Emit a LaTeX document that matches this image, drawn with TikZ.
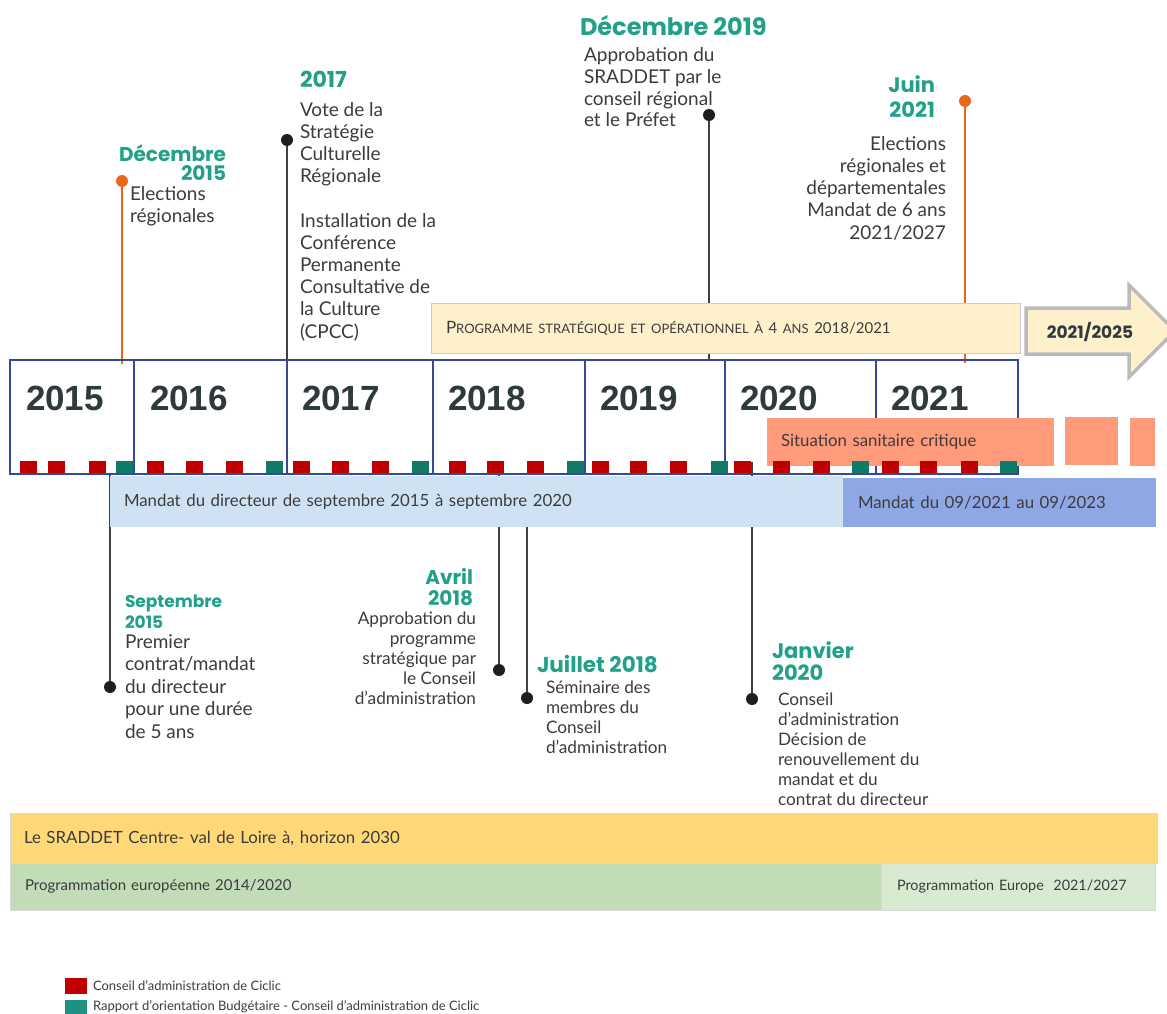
\documentclass[tikz,border=0pt]{standalone}
\usepackage{fontspec}
\setmainfont{Lato}
\newfontfamily\headfont{Poppins}
\newfontfamily\yearfont{Liberation Sans}
\usepackage{xcolor}
\usepackage{tikz}
\usetikzlibrary{positioning, shapes, calc}
\definecolor{tealhead}{HTML}{21A08A}
\definecolor{bodytxt}{HTML}{3C3C3C}
\definecolor{yeartxt}{HTML}{2F3A3E}
\definecolor{boxblue}{HTML}{34499A}
\definecolor{sqred}{HTML}{C00000}
\definecolor{sqteal}{HTML}{127A68}
\definecolor{legteal}{HTML}{1E9282}
\definecolor{pinorange}{HTML}{E9661C}
\definecolor{pinblack}{HTML}{1E1E1E}
\definecolor{salmon}{HTML}{FF9B7B}
\definecolor{progfill}{HTML}{FFF0CC}
\definecolor{mandatA}{HTML}{CFE2F3}
\definecolor{mandatB}{HTML}{8EA7E5}
\definecolor{sraddet}{HTML}{FFD978}
\definecolor{europeA}{HTML}{C2DCB8}
\definecolor{europeB}{HTML}{D9EAD3}

\begin{document}
\begin{tikzpicture}[x=1pt,y=-1pt,
  every node/.append style={inner sep=0pt, outer sep=0pt},
  head/.style 2 args={font=\headfont\bfseries\fontsize{#1}{#2}\selectfont, text=tealhead},
  body/.style 2 args={font=\fontsize{#1}{#2}\selectfont, text=bodytxt},
  yearlbl/.style={font=\yearfont\bfseries\fontsize{35}{35}\selectfont, text=yeartxt, anchor=base west},
  blackdot/.style={circle, fill=pinblack, minimum size=12},
  orangedot/.style={circle, fill=pinorange, minimum size=12},
  pinline/.style={draw=pinblack!85, line width=1.3},
  orangeline/.style={draw=pinorange, line width=1.3},
  bar/.style={anchor=north west, align=left, inner xsep=14, text=bodytxt, font=\fontsize{16.8}{19}\selectfont}]
\fill[white] (0,0) rectangle (1167,1014);
\useasboundingbox (0,0) rectangle (1167,1014);
% pins above the years
\node[orangedot] (p15) at (122,181) {};
\coordinate (q15) at (122,364);
\draw[orangeline] (p15) -- (q15);
\node[blackdot] (p17) at (287,140) {};
\coordinate (q17) at (287,385);
\draw[pinline] (p17) -- (q17);
\node[blackdot] (p19) at (709,115) {};
\coordinate (q19) at (709,360);
\draw[pinline] (p19) -- (q19);
\node[orangedot] (p21) at (965,101) {};
\coordinate (q21) at (965,363);
\draw[orangeline] (p21) -- (q21);
% pins below the years
\coordinate (s15) at (110,474);
\node[blackdot] (d15) at (110,687) {};
\draw[pinline] (s15) -- (d15);
\coordinate (s18a) at (499,462);
\node[blackdot] (d18a) at (499,670) {};
\draw[pinline] (s18a) -- (d18a);
\coordinate (s18j) at (527,527);
\node[blackdot] (d18j) at (527,698) {};
\draw[pinline] (s18j) -- (d18j);
\coordinate (s20) at (752,462);
\node[blackdot] (d20) at (752,699) {};
\draw[pinline] (s20) -- (d20);
% texts of the top pins (anchored on the last line)
\node[head={20}{19}, align=right, anchor=base east] (h15) at (226,180) {Décembre\\2015};
\node[body={19}{22}, align=left, anchor=base west] (t15) at (130,222) {Elections\\régionales};
\node[head={22}{22}, anchor=base west] (h17) at (300,88) {2017};
\node[body={19}{22.2}, align=left, anchor=base west] (t17) at (300,338) {Vote de la\\Stratégie\\Culturelle\\Régionale\\[22.2pt]Installation de la\\Conférence\\Permanente\\Consultative de\\la Culture\\(CPCC)};
\node[head={24}{24}, anchor=base west] (h19) at (580,36) {Décembre 2019};
\node[body={19}{21.8}, align=left, anchor=base west] (t19) at (584,127) {Approbation du\\SRADDET par le\\conseil régional\\et le Préfet};
\node[head={21}{25}, align=right, anchor=base east] (h21) at (935,118) {Juin\\2021};
\node[body={19}{22.2}, align=right, anchor=base east] (t21) at (946,239) {Elections\\régionales et\\départementales\\Mandat de 6 ans\\2021/2027};
% texts of the bottom pins (anchored on the last line)
\node[head={17}{21}, align=left, anchor=base west] (h15b) at (125,628) {Septembre\\2015};
\node[body={19}{22.5}, align=left, anchor=base west] (t15b) at (125,738) {Premier\\contrat/mandat\\du directeur\\pour une durée\\de 5 ans};
\node[head={20}{21}, align=right, anchor=base east] (h18a) at (473,605) {Avril\\2018};
\node[body={17.2}{20}, align=right, anchor=base east] (t18a) at (476,704) {Approbation du\\programme\\stratégique par\\le Conseil\\d'administration};
\node[head={21.5}{21.5}, anchor=base west] (h18j) at (537,672) {Juillet 2018};
\node[body={17.2}{20}, align=left, anchor=base west] (t18j) at (546,753) {Séminaire des\\membres du\\Conseil\\d'administration};
\node[head={21}{22}, align=left, anchor=base west] (h20) at (772,680) {Janvier\\2020};
\node[body={17.2}{20}, align=left, anchor=base west] (t20) at (778,805) {Conseil\\d'administration\\Décision de\\renouvellement du\\mandat et du\\contrat du directeur};
% programme bar and arrow
\node[bar, fill=progfill, draw=black!20, line width=1, text width=559, minimum height=50, inner xsep=15] (prog) at (431,303)
  {{\fontsize{17}{19}\selectfont P}{\fontsize{13}{19}\selectfont ROGRAMME STRATÉGIQUE ET OPÉRATIONNEL À }{\fontsize{15}{19}\selectfont 4}{\fontsize{13}{19}\selectfont{} ANS }{\fontsize{15}{19}\selectfont 2018/2021}};
\draw[fill=progfill, draw=black!27, line width=3.5, line join=miter]
  (1026,308) -- (1129,308) -- (1129,285) -- (1175,331) -- (1129,377) -- (1129,354) -- (1026,354) -- cycle;
\node[font=\headfont\bfseries\fontsize{17}{18}\selectfont, text=yeartxt] (next) at (1090,332) {2021/2025};
% year boxes
\draw[boxblue, line width=1.5] (10,360) rectangle (1018,474);
\draw[boxblue, line width=1.5] (134,360) -- (134,474) (287,360) -- (287,474) (433,360) -- (433,474)
  (585,360) -- (585,474) (725,360) -- (725,474) (876,360) -- (876,474);
\node[yearlbl] (y15) at (26,410) {2015};
\node[yearlbl] (y16) at (150,410) {2016};
\node[yearlbl] (y17) at (302,410) {2017};
\node[yearlbl] (y18) at (448,410) {2018};
\node[yearlbl] (y19) at (600,410) {2019};
\node[yearlbl] (y20) at (740,410) {2020};
\node[yearlbl] (y21) at (891,410) {2021};
% sanitary crisis
\node[bar, fill=salmon, text width=259, minimum height=48] (crise) at (767,418) {Situation sanitaire critique};
\fill[salmon] (1065,417) rectangle (1118,465);
\fill[salmon] (1130,418) rectangle (1155,466);
% board meetings
\foreach \x in {20,48,89,147,186,226,293,332,372,449,487,527,592,630,670,734,773,813,882,920,961}
  \fill[sqred] (\x,461) rectangle ++(17,12);
\foreach \x in {116,266,412,567,711,852,1000}
  \fill[sqteal] (\x,461) rectangle ++(17,12);
% mandates
\node[bar, fill=mandatA, text width=705, minimum height=51] (mand1) at (110,476) {Mandat du directeur de septembre 2015 à septembre 2020};
\node[bar, fill=mandatB, text width=283, minimum height=49, inner xsep=15] (mand2) at (843,478) {Mandat du 09/2021 au 09/2023};
% long programmes
\node[bar, fill=sraddet, draw=black!15, text width=1119, minimum height=50] (srad) at (10,813) {Le SRADDET Centre- val de Loire à, horizon 2030};
\node[bar, fill=europeA, draw=black!15, text width=841, minimum height=47, inner xsep=15, font=\fontsize{15}{17}\selectfont] (eu1) at (10,863) {Programmation européenne 2014/2020};
\node[bar, fill=europeB, draw=black!15, text width=242, minimum height=47, inner xsep=16, font=\fontsize{14.4}{17}\selectfont] (eu2) at (881,863) {Programmation Europe~ 2021/2027};
% legend
\fill[sqred] (65,978) rectangle (87,994);
\node[body={13}{15}, anchor=west] (leg1) at (93,986) {Conseil d'administration de Ciclic};
\fill[legteal] (65,1000) rectangle (87,1016);
\node[body={13}{15}, anchor=west] (leg2) at (93,1007) {Rapport d'orientation Budgétaire - Conseil d'administration de Ciclic};
\end{tikzpicture}
\end{document}
